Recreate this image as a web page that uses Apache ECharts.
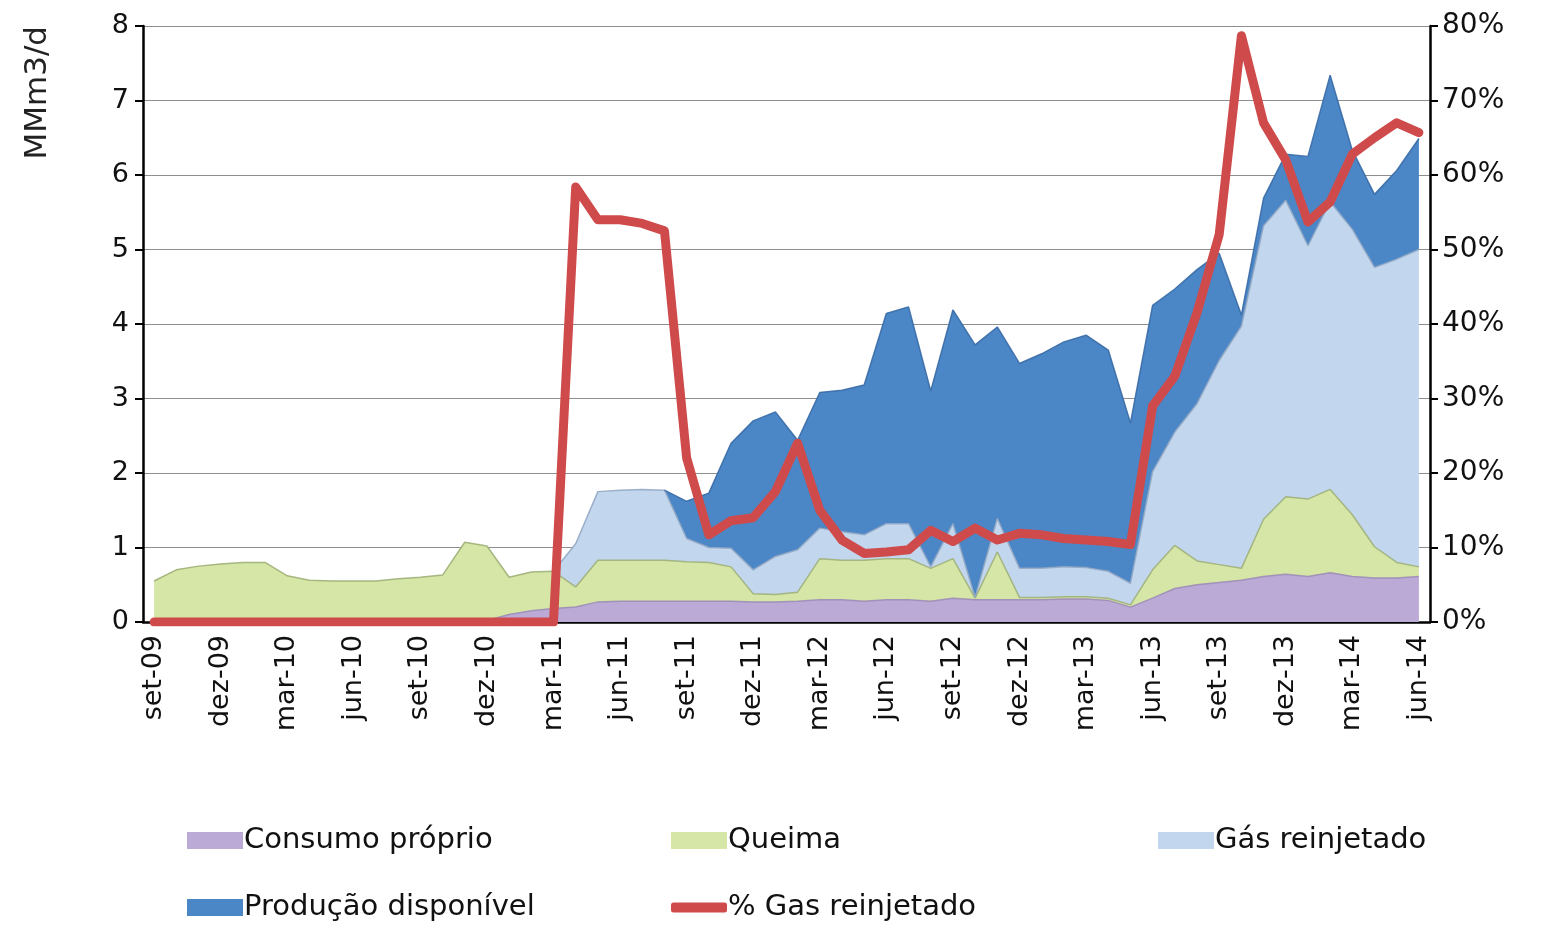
<!DOCTYPE html>
<html>
<head>
<meta charset="utf-8">
<title>Gás natural - MMm3/d</title>
<script src="https://cdn.jsdelivr.net/npm/echarts@6/dist/echarts.min.js"></script>
<style>
    html, body { margin: 0; padding: 0; background: #fff; }
    #chart { width: 1550px; height: 926px; }
</style>
</head>
<body>
<div id="chart"></div>
<script>
// meses set-09 .. jun-14
const months = [
    'set-09', 'out-09', 'nov-09', 'dez-09',
    'jan-10', 'fev-10', 'mar-10', 'abr-10', 'mai-10', 'jun-10', 'jul-10', 'ago-10', 'set-10', 'out-10', 'nov-10', 'dez-10',
    'jan-11', 'fev-11', 'mar-11', 'abr-11', 'mai-11', 'jun-11', 'jul-11', 'ago-11', 'set-11', 'out-11', 'nov-11', 'dez-11',
    'jan-12', 'fev-12', 'mar-12', 'abr-12', 'mai-12', 'jun-12', 'jul-12', 'ago-12', 'set-12', 'out-12', 'nov-12', 'dez-12',
    'jan-13', 'fev-13', 'mar-13', 'abr-13', 'mai-13', 'jun-13', 'jul-13', 'ago-13', 'set-13', 'out-13', 'nov-13', 'dez-13',
    'jan-14', 'fev-14', 'mar-14', 'abr-14', 'mai-14', 'jun-14'
];

// MMm3/d  ('-' = sem valor)
const consumoProprio = [
    0, 0, 0, 0, 0, 0, 0, 0, 0, 0, 0, 0, 0, 0, 0, 0.02,
    0.10, 0.15, 0.18, 0.20, 0.27, 0.28, 0.28, 0.28, 0.28, 0.28, 0.28, 0.27,
    0.27, 0.28, 0.30, 0.30, 0.28, 0.30, 0.30, 0.28, 0.32, 0.30, 0.30, 0.30,
    0.30, 0.31, 0.31, 0.29, 0.20, 0.32, 0.45, 0.50, 0.53, 0.56, 0.61, 0.64,
    0.61, 0.66, 0.61, 0.59, 0.59, 0.61
];
const queima = [
    0.55, 0.70, 0.75, 0.78, 0.80, 0.80, 0.62, 0.56, 0.55, 0.55, 0.55, 0.58, 0.60, 0.63, 1.07, 1.00,
    0.50, 0.52, 0.50, 0.27, 0.56, 0.55, 0.55, 0.55, 0.53, 0.52, 0.46, 0.11,
    0.10, 0.12, 0.55, 0.53, 0.55, 0.55, 0.55, 0.44, 0.53, 0.02, 0.64, 0.03,
    0.03, 0.03, 0.03, 0.03, 0.03, 0.38, 0.58, 0.32, 0.24, 0.16, 0.77, 1.04,
    1.04, 1.12, 0.83, 0.42, 0.21, 0.13
];
const gasReinjetado = [
    '-', '-', '-', '-', '-', '-', '-', '-', '-', '-', '-', '-', '-', '-', '-', '-',
    '-', '-', 0, 0.58, 0.92, 0.94, 0.95, 0.94, 0.31, 0.20, 0.25, 0.32,
    0.51, 0.57, 0.41, 0.38, 0.34, 0.47, 0.47, 0.02, 0.47, 0.01, 0.45, 0.39,
    0.39, 0.40, 0.39, 0.36, 0.29, 1.32, 1.52, 2.11, 2.74, 3.25, 3.94, 3.98,
    3.40, 3.86, 3.83, 3.75, 4.07, 4.26
];
const producaoDisponivel = [
    '-', '-', '-', '-', '-', '-', '-', '-', '-', '-', '-', '-', '-', '-', '-', '-',
    '-', '-', '-', '-', '-', '-', '-', 0, 0.50, 0.73, 1.41, 2.00,
    1.94, 1.47, 1.82, 1.90, 2.01, 2.82, 2.91, 2.36, 2.87, 3.39, 2.57, 2.75,
    2.88, 3.02, 3.12, 2.97, 2.15, 2.23, 1.92, 1.80, 1.44, 0.15, 0.37, 0.62,
    1.20, 1.70, 1.06, 0.98, 1.19, 1.49
];
// %
const pctReinjetado = [
    0, 0, 0, 0, 0, 0, 0, 0, 0, 0, 0, 0, 0, 0, 0, 0,
    0, 0, 0, 58.4, 54, 54, 53.5, 52.5, 22, 11.7, 13.6, 14,
    17.5, 24, 15, 11, 9.2, 9.4, 9.7, 12.3, 10.8, 12.6, 11, 11.9,
    11.7, 11.2, 11, 10.8, 10.4, 29, 33, 41.5, 52, 78.7, 67, 62,
    53.7, 56.4, 62.8, 65, 67, 65.7
];

const leftTicks = [0, 1, 2, 3, 4, 5, 6, 7, 8];
const rightTicks = [0, 10, 20, 30, 40, 50, 60, 70, 80];

const FONT = 'DejaVu Sans';

const chart = echarts.init(document.getElementById('chart'));

function areaSeries(name, data, fill, edge) {
    return {
        name: name,
        type: 'line',
        stack: 'gas',
        data: data,
        showSymbol: false,
        symbol: 'none',
        smooth: false,
        itemStyle: { color: fill },
        lineStyle: { color: edge, width: 1.5, opacity: 0.9 },
        areaStyle: { color: fill, opacity: 1 },
        emphasis: { disabled: true }
    };
}

function legendAt(name, left, top, opts) {
    return Object.assign({
        data: [name],
        left: left,
        top: top,
        icon: 'rect',
        itemWidth: 56,
        itemHeight: 17,
        itemGap: 0,
        selectedMode: false,
        textStyle: { fontFamily: FONT, fontSize: 29, color: '#111', padding: [0, 0, 0, -4] }
    }, opts || {});
}

chart.setOption({
    animation: false,
    grid: {
        left: 143,
        right: 120,
        top: 26,
        bottom: 304
    },
    legend: [
        legendAt('Consumo próprio', 182, 821),
        legendAt('Queima', 666, 821),
        legendAt('Gás reinjetado', 1153, 821),
        legendAt('Produção disponível', 182, 888),
        legendAt('% Gas reinjetado', 666, 888, { icon: 'roundRect', itemHeight: 10 })
    ],
    graphic: [
        {
            type: 'text',
            left: 22,
            top: 26,
            rotation: Math.PI / 2,
            style: {
                text: 'MMm3/d',
                fontFamily: FONT,
                fontSize: 31,
                fill: '#222'
            }
        }
    ],
    xAxis: {
        type: 'category',
        data: months,
        boundaryGap: true,
        axisLine: { lineStyle: { color: '#000', width: 2.5 } },
        axisTick: { interval: 2, length: 8, lineStyle: { color: '#000', width: 2 } },
        axisLabel: {
            interval: 2,
            rotate: 90,
            margin: 13,
            fontFamily: FONT,
            fontSize: 27,
            color: '#111'
        },
        splitLine: { show: false }
    },
    yAxis: [
        {
            type: 'value',
            min: leftTicks[0],
            max: leftTicks[leftTicks.length - 1],
            interval: 1,
            axisLine: { show: true, lineStyle: { color: '#000', width: 2.5 } },
            axisTick: { show: true, length: 8, lineStyle: { color: '#000', width: 2 } },
            axisLabel: { fontFamily: FONT, fontSize: 27, color: '#111', margin: 14 },
            splitLine: { lineStyle: { color: '#8e8e8e', width: 1.2 } }
        },
        {
            type: 'value',
            min: rightTicks[0],
            max: rightTicks[rightTicks.length - 1],
            interval: 10,
            position: 'right',
            axisLine: { show: true, lineStyle: { color: '#000', width: 2.5 } },
            axisTick: { show: true, length: 8, lineStyle: { color: '#000', width: 2 } },
            axisLabel: { fontFamily: FONT, fontSize: 28, color: '#111', margin: 12, formatter: '{value}%' },
            splitLine: { show: false }
        }
    ],
    series: [
        areaSeries('Consumo próprio', consumoProprio, '#bcaad6', '#9c8bb8'),
        areaSeries('Queima', queima, '#d5e6a6', '#9fb078'),
        areaSeries('Gás reinjetado', gasReinjetado, '#c2d6ee', '#93a9c4'),
        areaSeries('Produção disponível', producaoDisponivel, '#4b86c6', '#3a6ca6'),
        {
            name: '% Gas reinjetado',
            type: 'line',
            yAxisIndex: 1,
            data: pctReinjetado,
            showSymbol: false,
            symbol: 'none',
            z: 5,
            itemStyle: { color: '#cf4b4b' },
            lineStyle: { color: '#cf4b4b', width: 9, join: 'round', cap: 'round' },
            emphasis: { disabled: true }
        }
    ]
});
</script>
</body>
</html>
